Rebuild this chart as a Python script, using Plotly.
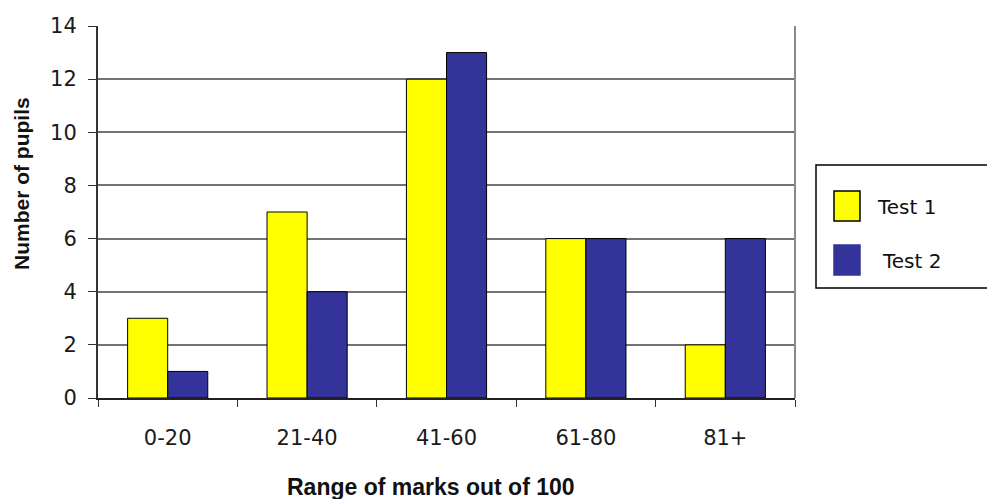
import plotly.graph_objects as go

# Distribution of test marks
categories = ["0-20", "21-40", "41-60", "61-80", "81+"]
test1 = [3, 7, 12, 6, 2]
test2 = [1, 4, 13, 6, 6]
series_names = ["Test 1", "Test 2"]
series_colors = ["#FFFF00", "#333399"]
y_ticks = [0, 2, 4, 6, 8, 10, 12, 14]
x_title = "Range of marks out of 100"
y_title = "Number of pupils"

FONT = "Liberation Sans, Arial, sans-serif"
LABEL_FONT = "DejaVu Sans, Liberation Sans, sans-serif"
W, H = 987, 499
ML, MR, MT, MB = 98, 192, 26, 101

fig = go.Figure()
for name, vals, color in zip(series_names, [test1, test2], series_colors):
    fig.add_trace(go.Bar(
        x=categories, y=vals, name=name,
        marker=dict(color=color, line=dict(color="#000000", width=1)),
        showlegend=False,
    ))

fig.update_layout(
    width=W, height=H,
    margin=dict(l=ML, r=MR, t=MT, b=MB),
    paper_bgcolor="white", plot_bgcolor="white",
    barmode="group", bargap=0.425, bargroupgap=0,
    font=dict(family=FONT, color="#000000"),
    xaxis=dict(
        type="category",
        tickson="boundaries", ticks="outside", ticklen=7, tickcolor="#333",
        showline=True, linecolor="#222", linewidth=2,
        showgrid=False,
        tickfont=dict(size=21, color="#1a1a1a", family=LABEL_FONT),
        ticklabelstandoff=20,
    ),
    yaxis=dict(
        range=[0, 14], tickvals=y_ticks,
        ticks="outside", ticklen=8, tickcolor="#333",
        showline=True, linecolor="#333", linewidth=2,
        showgrid=True, gridcolor="#737373", gridwidth=2,
        zeroline=False,
        tickfont=dict(size=21, color="#1a1a1a", family=LABEL_FONT),
        ticklabelstandoff=7,
    ),
)

pw, ph = W - ML - MR, H - MT - MB


def px_to_paper(x, y):
    return (x - ML) / pw, (H - MB - y) / ph


# Axis titles
tx, ty = px_to_paper(431, 487)
fig.add_annotation(xref="paper", yref="paper", x=tx, y=ty, text="<b>" + x_title + "</b>",
                   showarrow=False, xanchor="center", yanchor="middle",
                   font=dict(size=23, color="#111", family=FONT))
tx, ty = px_to_paper(22, 184)
fig.add_annotation(xref="paper", yref="paper", x=tx, y=ty, text="<b>" + y_title + "</b>",
                   showarrow=False, xanchor="center", yanchor="middle", textangle=-90,
                   font=dict(size=21, color="#111", family=FONT))

# Right border of the plot area
fig.add_shape(type="line", xref="paper", yref="paper", x0=1, x1=1, y0=0, y1=1,
              line=dict(color="#8a8a8a", width=2))

# Legend box with swatches
bx0, by0 = px_to_paper(816, 165)
bx1, by1 = px_to_paper(990, 288)
fig.add_shape(type="rect", xref="paper", yref="paper",
              x0=bx0, x1=bx1, y0=by1, y1=by0,
              line=dict(color="#000000", width=1.5), fillcolor="white")
for i, (name, color) in enumerate(zip(series_names, series_colors)):
    cy = 206 + i * 54
    sx0, sy0 = px_to_paper(834, cy - 15)
    sx1, sy1 = px_to_paper(860, cy + 15)
    fig.add_shape(type="rect", xref="paper", yref="paper",
                  x0=sx0, x1=sx1, y0=sy1, y1=sy0,
                  line=dict(color="#000000" if i == 0 else color, width=1.5),
                  fillcolor=color)
    tx, ty = px_to_paper(875 + i * 5, cy + 1)
    fig.add_annotation(xref="paper", yref="paper", x=tx, y=ty, text=name,
                       showarrow=False, xanchor="left", yanchor="middle",
                       font=dict(size=20, color="#111", family=LABEL_FONT))

fig.write_html("out.html")
